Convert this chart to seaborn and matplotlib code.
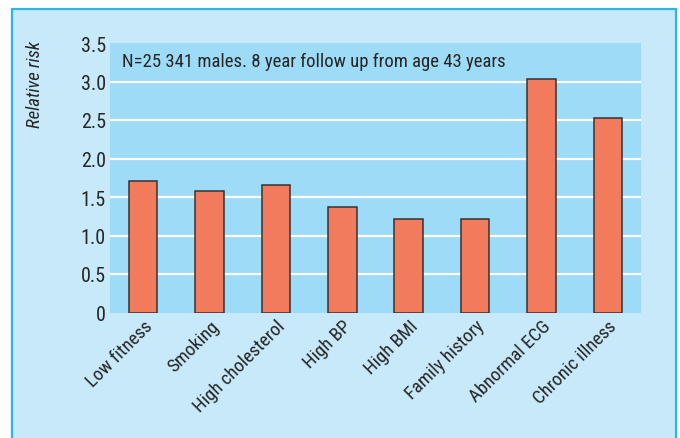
import matplotlib
matplotlib.use("Agg")
import matplotlib.pyplot as plt
import matplotlib.patches as mpatches
from matplotlib import font_manager
import seaborn as sns
import pandas as pd

# Risk factors and their relative risk
categories = ["Low fitness", "Smoking", "High cholesterol", "High BP",
              "High BMI", "Family history", "Abnormal ECG", "Chronic illness"]
relative_risk = [1.71, 1.58, 1.66, 1.37, 1.21, 1.21, 3.03, 2.53]
y_ticks = [0, 0.5, 1.0, 1.5, 2.0, 2.5, 3.0, 3.5]
y_tick_labels = ["0", "0.5", "1.0", "1.5", "2.0", "2.5", "3.0", "3.5"]
note = "N=25 341 males. 8 year follow up from age 43 years"

df = pd.DataFrame({"factor": categories, "risk": relative_risk})

sns.set_theme(style="white")

# prefer a narrow sans face if one is installed
installed = {f.name for f in font_manager.fontManager.ttflist}
narrow = [n for n in ["Liberation Sans Narrow", "Roboto Condensed",
                      "Open Sans Condensed", "Noto Sans Condensed"] if n in installed]
FONT = narrow[:1] + ["DejaVu Sans"]
STRETCH = "normal" if narrow else "condensed"
plt.rcParams["font.family"] = FONT
plt.rcParams["font.stretch"] = STRETCH

TEXT = "#262626"
PANEL = "#c7e9f9"
PLOT_BG = "#9edbf7"
BORDER = "#29b6e8"
BAR = "#f27a5d"

W, H = 680, 439
fig = plt.figure(figsize=(W / 100, H / 100), dpi=100, facecolor="white")

# outer light-blue panel with a bright blue border
panel = mpatches.Rectangle((11.5 / W, -0.05), (676 - 11.5) / W, 1.05 - 9.5 / H,
                           transform=fig.transFigure, facecolor=PANEL,
                           edgecolor=BORDER, linewidth=1.6, zorder=-5)
fig.patches.append(panel)

left, right, top, bottom = 110, 641, 44, 313.5
ax = fig.add_axes([left / W, 1 - bottom / H, (right - left) / W, (bottom - top) / H])
ax.set_zorder(2)
ax.set_facecolor(PLOT_BG)

sns.barplot(data=df, x="factor", y="risk", ax=ax, color=BAR, saturation=1,
            width=0.43, edgecolor="#333333", linewidth=1.1, zorder=3)

ax.set_ylim(0, 3.5)
ax.set_xlim(-0.5, len(categories) - 0.5)
ax.set_yticks(y_ticks)
ax.set_yticklabels(y_tick_labels, fontsize=14.5, color=TEXT)
for y in y_ticks[1:-1]:
    ax.axhline(y, color="white", linewidth=1.6, zorder=1)

for s in ax.spines.values():
    s.set_visible(False)
ax.tick_params(axis="both", length=0)
ax.tick_params(axis="y", pad=3)
ax.set_xlabel("")
ax.set_ylabel("")

ax.set_xticks(range(len(categories)))
ax.set_xticklabels(categories, rotation=45, ha="right", va="top",
                   rotation_mode="anchor", fontsize=13.5, color=TEXT)
ax.tick_params(axis="x", pad=3)

ax.text(0.023, 0.935, note, transform=ax.transAxes, fontsize=13.5,
        color=TEXT, ha="left", va="center")

fig.text(35 / W, 1 - 84 / H, "Relative risk", rotation=90, fontsize=13.5,
         fontstyle="italic", color=TEXT, ha="center", va="center")

fig.savefig("out.png", dpi=100, facecolor="white")
